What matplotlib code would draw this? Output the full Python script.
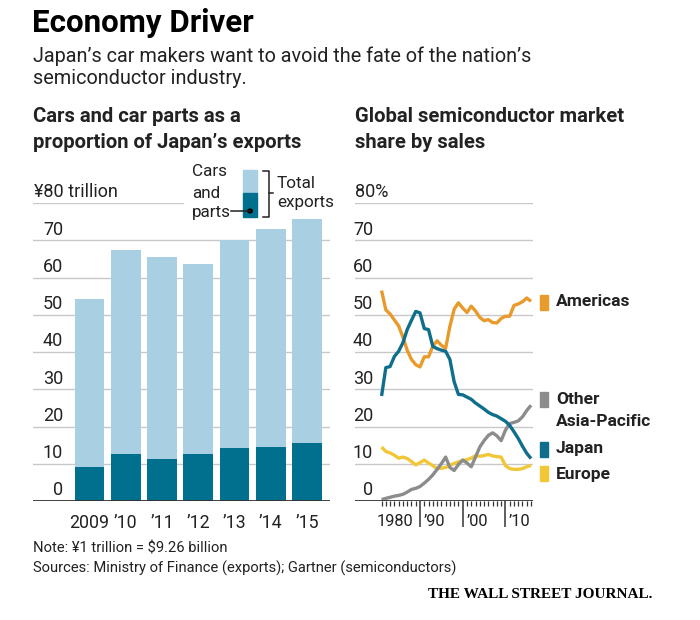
import matplotlib
matplotlib.use('Agg')
import matplotlib.pyplot as plt
from matplotlib import transforms
from matplotlib.patches import Rectangle, Circle
from matplotlib.lines import Line2D
import numpy as np

plt.rcParams['font.family'] = ['Roboto', 'DejaVu Sans']

# Japan's exports, trillion yen
bar_years = ['2009', '’10', '’11', '’12', '’13', '’14', '’15']
total_exports = [54.2, 67.4, 65.5, 63.7, 70.0, 73.1, 75.6]
cars_parts = [9.1, 12.5, 11.4, 12.6, 14.1, 14.6, 15.7]

# global semiconductor market share by sales, %
years = list(range(1981, 2017))
americas = [56.5, 51.3, 50.2, 48.6, 47.0, 44.0, 40.5, 38.0, 36.6, 36.0,
            38.7, 38.7, 41.6, 43.0, 41.8, 41.0, 46.9, 51.5, 53.2, 51.8,
            50.6, 52.3, 51.0, 49.3, 48.4, 48.7, 47.9, 47.8, 49.0, 49.6,
            49.6, 52.5, 52.9, 53.5, 54.5, 53.6]
japan = [28.2, 35.8, 36.1, 38.8, 40.2, 42.5, 46.0, 48.5, 50.9, 50.5,
         46.3, 46.0, 41.5, 40.9, 40.5, 40.2, 38.0, 32.0, 28.6, 28.5,
         27.9, 27.3, 26.3, 25.5, 24.7, 23.8, 23.2, 22.8, 22.1, 21.4,
         20.3, 18.6, 16.8, 14.7, 12.8, 11.4]
asia_pacific = [0.4, 0.7, 1.0, 1.3, 1.5, 1.8, 2.4, 3.1, 3.4, 3.9,
                4.8, 5.8, 7.0, 8.5, 10.0, 11.8, 9.0, 8.2, 9.8, 11.0,
                10.2, 9.2, 11.8, 14.5, 16.2, 17.6, 18.3, 17.5, 16.2, 19.0,
                20.8, 21.1, 21.5, 22.6, 24.3, 25.7]
europe = [14.5, 13.3, 12.9, 12.3, 11.5, 11.8, 11.4, 10.6, 9.7, 10.3,
          11.0, 10.2, 9.5, 8.7, 8.8, 9.0, 9.6, 10.1, 10.5, 10.8,
          11.1, 11.5, 12.2, 12.0, 12.2, 12.5, 12.1, 11.9, 11.8, 9.5,
          8.7, 8.5, 8.5, 8.7, 9.2, 9.6]

LIGHT = '#a8d0e2'
DARK = '#00708e'
ORANGE = '#e99a2c'
TEAL = '#0f6e8b'
GRAY = '#8c8c8c'
YELLOW = '#f2c737'
GRID = '#c8c8c8'
TXT = '#222222'

W, H = 700, 620


def fx(x):
    return x / W


def fy(y):
    return 1 - y / H


fig = plt.figure(figsize=(7, 6.2), dpi=100)

# header
fig.text(fx(32), fy(23), 'Economy Driver', fontsize=22.5, fontweight='bold',
         color='black', va='center')
fig.text(fx(33), fy(56), 'Japan’s car makers want to avoid the fate of the nation’s',
         fontsize=14.3, color=TXT, va='center')
fig.text(fx(33), fy(79), 'semiconductor industry.', fontsize=14.3, color=TXT, va='center')
fig.text(fx(33), fy(117), 'Cars and car parts as a', fontsize=14.6, fontweight='bold',
         color=TXT, va='center')
fig.text(fx(33), fy(142), 'proportion of Japan’s exports', fontsize=14.6, fontweight='bold',
         color=TXT, va='center')
fig.text(fx(355), fy(117), 'Global semiconductor market', fontsize=14.6, fontweight='bold',
         color=TXT, va='center')
fig.text(fx(355), fy(142), 'share by sales', fontsize=14.6, fontweight='bold',
         color=TXT, va='center')

# ---- left: bars ----
ax1 = fig.add_axes([fx(33), fy(501), (330 - 33) / W, (501 - 203) / H])
x = np.arange(len(bar_years))
ax1.bar(x, total_exports, width=0.815, color=LIGHT, zorder=2)
ax1.bar(x, cars_parts, width=0.815, color=DARK, zorder=3)
ax1.set_xlim(-1.559, 6.634)
ax1.set_ylim(0, 80)
for v in range(10, 80, 10):
    ax1.axhline(v, color=GRID, lw=1, zorder=1)
ax1.axhline(80, xmin=0, xmax=150 / 297, color=GRID, lw=1, zorder=1)
ax1.axhline(0, color='#333333', lw=1.3, zorder=4)
for s in ax1.spines.values():
    s.set_visible(False)
ax1.set_yticks([])
ax1.set_xticks(x, bar_years)
ax1.tick_params(axis='x', length=0, pad=9, labelsize=12.8, labelcolor=TXT)
tr1 = transforms.blended_transform_factory(ax1.transAxes, ax1.transData)
for v in range(0, 80, 10):
    ax1.annotate(str(v), xy=(30 / 297, v), xycoords=tr1, xytext=(0, 4),
                 textcoords='offset points', ha='right', va='baseline',
                 fontsize=13, color=TXT)
ax1.annotate('¥80 trillion', xy=(1 / 297, 80), xycoords=tr1, xytext=(0, 4),
             textcoords='offset points', ha='left', va='baseline',
             fontsize=13, color=TXT)

# key for bars
fig.add_artist(Rectangle((fx(243), fy(193)), 14 / W, 23 / H, color=LIGHT,
                         transform=fig.transFigure))
fig.add_artist(Rectangle((fx(243), fy(217)), 14 / W, 24 / H, color=DARK,
                         transform=fig.transFigure))
fig.add_artist(Line2D([fx(263), fx(269), fx(269), fx(263)],
                      [fy(171), fy(171), fy(217), fy(217)],
                      color=TXT, lw=1.1, transform=fig.transFigure))
fig.add_artist(Line2D([fx(269), fx(273)], [fy(193), fy(193)],
                      color=TXT, lw=1.1, transform=fig.transFigure))
fig.add_artist(Line2D([fx(231), fx(250)], [fy(211), fy(211)],
                      color=TXT, lw=1.1, transform=fig.transFigure))
fig.add_artist(Circle((fx(250), fy(211)), 2.2 / W, color='black',
                      transform=fig.transFigure))
for txt, yy in [('Cars', 172), ('and', 193), ('parts', 213)]:
    fig.text(fx(192), fy(yy), txt, fontsize=12.3, color=TXT, va='center')
fig.text(fx(277), fy(183), 'Total', fontsize=12.3, color=TXT, va='center')
fig.text(fx(277), fy(203), 'exports', fontsize=12.3, color=TXT, va='center')

# ---- right: lines ----
ax2 = fig.add_axes([fx(355), fy(501), (533 - 355) / W, (501 - 203) / H])
ax2.set_xlim(1974.78, 2016.46)
ax2.set_ylim(0, 80)
for v in range(10, 90, 10):
    ax2.axhline(v, color=GRID, lw=1, zorder=1)
ax2.axhline(0, color='#333333', lw=1.3, zorder=4)
for s in ax2.spines.values():
    s.set_visible(False)
ax2.plot(years, europe, color=YELLOW, lw=2.4, zorder=2, solid_capstyle='butt')
ax2.plot(years, americas, color=ORANGE, lw=2.4, zorder=2, solid_capstyle='butt')
ax2.plot(years, asia_pacific, color=GRAY, lw=2.4, zorder=3, solid_capstyle='butt')
ax2.plot(years, japan, color=TEAL, lw=2.4, zorder=3, solid_capstyle='butt')
ax2.set_yticks([])
ax2.set_xticks([1990, 2000, 2010])
ax2.set_xticks(years, minor=True)
ax2.tick_params(axis='x', which='major', length=19, width=1.1, color='#333333',
                labelbottom=False)
ax2.tick_params(axis='x', which='minor', length=3.6, width=0.9, color='#333333')
tr2 = transforms.blended_transform_factory(ax2.transAxes, ax2.transData)
for v in range(0, 80, 10):
    ax2.annotate(str(v), xy=(18 / 178, v), xycoords=tr2, xytext=(0, 4),
                 textcoords='offset points', ha='right', va='baseline',
                 fontsize=13, color=TXT)
ax2.annotate('80%', xy=(0, 80), xycoords=tr2, xytext=(0, 4),
             textcoords='offset points', ha='left', va='baseline',
             fontsize=13, color=TXT)
trx = transforms.blended_transform_factory(ax2.transData, ax2.transAxes)
for yr, lab, dx in [(1980, '1980', -0.5), (1990, '’90', 3.5), (2000, '’00', 3.5), (2010, '’10', 3.5)]:
    ax2.annotate(lab, xy=(yr, 0), xycoords=trx, xytext=(dx * 0.72, -9),
                 textcoords='offset points', ha='left', va='top',
                 fontsize=11.8, color=TXT)

# labels for lines
for col, y0, y1 in [(ORANGE, 295, 310), (GRAY, 392, 407), (TEAL, 442, 457), (YELLOW, 466, 481)]:
    fig.add_artist(Rectangle((fx(540), fy(y1)), 8 / W, (y1 - y0) / H, color=col,
                             transform=fig.transFigure))
for txt, yy in [('Americas', 302), ('Other', 400), ('Asia-Pacific', 422),
                ('Japan', 449), ('Europe', 474)]:
    fig.text(fx(556), fy(yy), txt, fontsize=12.5, fontweight='bold', color=TXT, va='center')

# footer
fig.text(fx(33), fy(548), 'Note: ¥1 trillion = $9.26 billion', fontsize=10.6,
         color=TXT, va='center')
fig.text(fx(33), fy(568), 'Sources: Ministry of Finance (exports); Gartner (semiconductors)',
         fontsize=10.6, color=TXT, va='center')
fig.text(fx(652), fy(595), 'THE WALL STREET JOURNAL.', fontsize=11, fontweight='bold',
         family='Liberation Serif', color='black', ha='right', va='center')

fig.savefig('out.png', dpi=100)
